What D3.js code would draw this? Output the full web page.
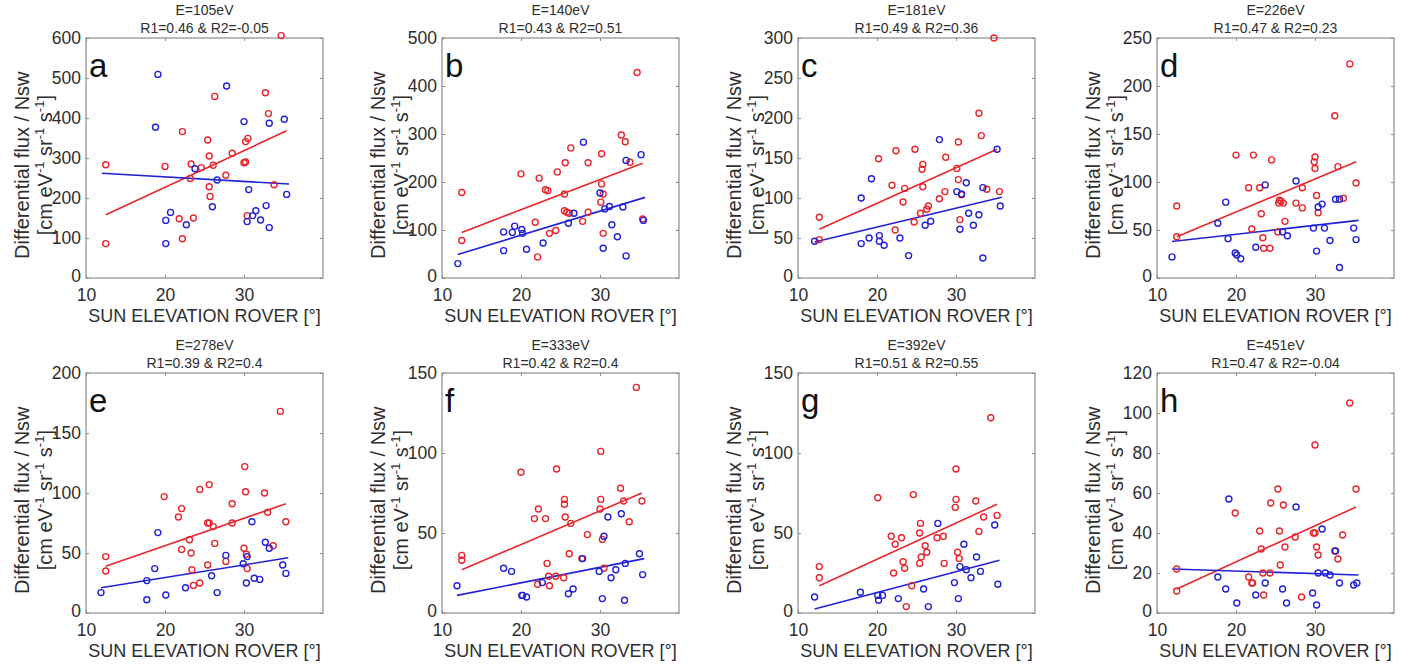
<!DOCTYPE html>
<html>
<head>
<meta charset="utf-8">
<script src="https://cdn.jsdelivr.net/npm/d3@7"></script>
<style>
  body { margin: 0; background: #fff; }
  svg { display: block; font-family: "Liberation Sans", Arial, sans-serif; }
  .tick text { fill: #2e2e2e; }
</style>
</head>
<body>
<svg id="canvas" width="1427" height="671"></svg>
<script>
// panel info
const letters = ["a", "b", "c", "d", "e", "f", "g", "h"];
const energies = ["105", "140", "181", "226", "278", "333", "392", "451"];
const r1 = ["0.46", "0.43", "0.49", "0.47", "0.39", "0.42", "0.51", "0.47"];
const r2 = ["-0.05", "0.51", "0.36", "0.23", "0.4", "0.4", "0.55", "-0.04"];
const yMax = [600, 500, 300, 250, 200, 150, 150, 120];
const yStep = [100, 100, 50, 50, 50, 50, 50, 20];
const xTicks = [10, 20, 30];

// red points [sun elevation, flux]
const redA = [[12.5,86],[12.5,283],[20,279],[22.2,366],[21.8,148],[22.2,98],[23.2,249],[23.3,285],[23.6,150],[24.6,276],[25.4,345],[25.6,305],[25.6,228],[25.7,204],[26.1,282],[26.3,454],[27.7,257],[28.5,312],[30,288],[30.2,290],[30.2,341],[30.5,349],[30.4,156],[32.7,463],[33.1,411],[33.8,233],[34.7,606]];
const redB = [[12.5,178],[12.5,78],[20,217],[21.8,116],[22.1,44],[22.3,208],[23.1,184],[23.4,182],[23.6,93],[24.4,99],[24.6,221],[25.5,175],[25.6,240],[25.5,140],[25.8,137],[26.1,135],[26.3,271],[27.8,118],[28.5,240],[28.5,137],[30.1,158],[30.2,196],[30.2,259],[30.4,175],[30.4,93],[32.7,298],[33.2,284],[33.8,241],[34.7,428],[35.4,123]];
const redC = [[12.7,76],[12.7,48],[20.2,149],[21.9,116],[22.4,159],[22.3,60],[23.3,95],[23.5,112],[24.7,70],[24.8,161],[25.5,81],[25.7,136],[25.8,142],[25.8,114],[26.3,86],[26.5,90],[27.9,99],[28.6,108],[28.7,151],[30.1,137],[30.3,123],[30.3,170],[30.5,73],[30.7,104],[32.9,206],[33.2,178],[33.9,111],[34.8,300],[35.5,108]];
const redD = [[12.5,75],[12.5,43],[20,128],[21.6,94],[22,51],[22.2,128],[23,94],[23.2,67],[23.4,42],[23.5,31],[24.3,31],[24.5,123],[25.3,48],[25.4,78],[25.5,81],[25.7,80],[26,78],[26.2,59],[27.6,78],[28.4,73],[28.4,94],[29.9,121],[30,126],[30,114],[30.2,86],[30.4,68],[32.5,169],[32.9,116],[33.6,83],[34.4,223],[35.2,99]];
const redE = [[12.5,47],[12.5,35],[19.9,97],[21.7,80],[22.1,87],[22.1,53],[23.1,61],[23.3,50],[23.4,36],[23.6,23],[24.4,25],[24.4,103],[25.4,40],[25.4,75],[25.6,75],[25.6,107],[26.1,72],[26.3,58],[27.7,43],[28.5,75],[28.5,91],[30,54],[30.1,122],[30.2,101],[30.3,49],[30.4,37],[32.6,100],[33,84],[33.7,56],[34.6,168],[35.3,76]];
const redF = [[12.5,36],[12.5,33],[20,88],[21.7,59],[22.1,18],[22.2,65],[23.1,59],[23.3,31],[23.5,23],[23.6,17],[24.4,23],[24.5,90],[25.4,22],[25.5,68],[25.5,71],[25.6,60],[26.1,37],[26.3,56],[27.7,34],[28.4,49],[30,65],[30.1,71],[30.1,101],[30.3,46],[30.5,28],[32.6,78],[33,70],[33.7,57],[34.6,141],[35.3,70]];
const redG = [[12.7,29],[12.7,22],[20.1,72],[21.8,48],[22.1,25],[22.3,43],[23.1,47],[23.3,32],[23.5,28],[23.7,4],[24.4,17],[24.6,74],[25.4,50],[25.4,31],[25.5,56],[25.6,35],[26.1,42],[26.3,38],[27.6,47],[28.4,48],[28.5,31],[29.9,66],[30,71],[30,90],[30.2,38],[30.4,34],[32.5,70],[32.9,51],[33.5,60],[34.4,122],[35.2,61]];
const redH = [[12.5,22],[12.5,11],[19.9,50],[21.6,18],[22,15],[22.1,15],[23,41],[23.2,32],[23.4,20],[23.5,9],[24.3,20],[24.4,55],[25.3,62],[25.5,41],[25.6,24],[26,54],[26.2,33],[27.5,38],[28.3,8],[29.8,40],[30,40],[30,84],[30.2,33],[30.4,29],[32.5,31],[32.9,27],[33.5,39],[34.4,105],[35.2,62]];

// blue points [sun elevation, flux]
const blueA = [[18.8,377],[19.1,509],[20.1,144],[20.1,86],[20.7,164],[22.7,133],[23.8,273],[26,178],[26.6,245],[27.8,480],[30,391],[30.4,141],[30.6,221],[31.1,156],[31.5,168],[32.1,145],[32.8,181],[33.2,126],[33.2,387],[35.1,397],[35.4,209]];
const blueB = [[12,30],[17.8,96],[17.8,57],[18.9,95],[19.2,108],[20.1,101],[20.2,93],[20.7,60],[22.8,73],[26,114],[26.7,135],[27.9,283],[30,177],[30.4,62],[30.6,144],[31.2,149],[31.5,111],[32.2,86],[32.9,148],[33.3,245],[33.3,46],[35.2,257],[35.5,120]];
const blueC = [[12.1,46],[18,43],[18,100],[19,50],[19.3,124],[20.3,53],[20.3,46],[20.9,41],[22.9,50],[24,28],[26.1,66],[26.8,71],[27.9,173],[30.1,108],[30.5,61],[30.7,105],[31.3,119],[31.6,81],[32.2,66],[32.9,79],[33.4,113],[33.4,25],[35.2,161],[35.6,90]];
const blueD = [[11.9,22],[17.7,57],[18.7,79],[19,41],[19.9,26],[20.1,24],[20.6,20],[22.5,32],[23.7,97],[25.9,48],[26.5,44],[27.6,101],[29.8,52],[30.2,28],[30.4,74],[30.9,77],[31.2,52],[31.9,39],[32.6,82],[33.1,82],[33.1,11],[34.9,52],[35.2,40]];
const blueE = [[11.9,17],[17.7,27],[17.7,11],[18.7,37],[19.1,67],[20.1,15],[22.6,21],[25.9,31],[26.6,17],[27.7,48],[29.9,41],[30.3,25],[30.4,47],[31,76],[31.3,29],[32,28],[32.7,59],[33.2,54],[34.9,40],[35.3,33]];
const blueF = [[11.9,17],[17.8,28],[18.8,26],[20.1,11],[20.2,11],[20.7,10],[22.7,19],[26,12],[26.6,15],[27.8,34],[29.9,26],[30.3,9],[30.5,48],[31,60],[31.4,22],[32,27],[32.7,62],[33.1,8],[33.2,31],[35,37],[35.4,24]];
const blueG = [[12.1,10],[17.9,13],[20.1,11],[20.2,8],[20.7,11],[22.7,9],[25.9,15],[26.5,4],[27.7,56],[29.8,19],[30.3,9],[30.5,29],[31,43],[31.3,27],[31.9,22],[32.6,35],[33.1,26],[34.9,55],[35.3,18]];
const blueH = [[17.7,18],[18.7,12],[19.1,57],[20.1,5],[22.5,9],[23.7,15],[25.9,12],[26.4,5],[27.6,53],[29.7,10],[30.2,4],[30.4,20],[30.9,42],[31.3,20],[31.9,19],[32.6,31],[33.1,15],[34.9,14],[35.3,15]];

// fitted lines [x0, y0, x1, y1]
const redFit = [[12.5,158,35.4,368],[12.5,95,35.4,239],[12.7,61,35.2,161],[12.5,43,35.2,121],[12.5,39,35.3,91],[12.5,27,35.3,75],[12.7,17,35.2,68],[12.5,12,35.2,53]];
const blueFit = [[12,262,35.7,235],[12,49,35.7,168],[12.1,45,35.8,101],[11.9,38,35.5,60],[11.9,21,35.6,46],[11.9,11,35.6,34],[12.1,2.5,35.5,33],[11.9,22,35.5,19]];

const redSets = [redA, redB, redC, redD, redE, redF, redG, redH];
const blueSets = [blueA, blueB, blueC, blueD, blueE, blueF, blueG, blueH];

const RED = "#e8262b";
const BLUE = "#2121d6";
const TXT = "#2e2e2e";
const AXC = "#8c8c8c";

const lefts = [86, 442, 798, 1157];
const tops = [38, 373];
const pw = 237, ph = 240;

const canvas = d3.select("#canvas");

letters.forEach((letter, i) => {
    const left = lefts[i % 4];
    const top = tops[Math.floor(i / 4)];

    const x = d3.scaleLinear().domain([10, 40]).range([0, pw]);
    const y = d3.scaleLinear().domain([0, yMax[i]]).range([ph, 0]);
    const yTicks = d3.range(0, yMax[i] + 0.001, yStep[i]);

    const g = canvas.append("g").attr("transform", `translate(${left},${top})`);

    // axes, ticks pointing inward like matlab
    const gy = g.append("g")
        .call(d3.axisLeft(y).tickValues(yTicks).tickSizeInner(-3).tickSizeOuter(0).tickPadding(5));
    gy.selectAll("text").style("font-size", "17.5px");
    // lift the "0" a little so it clears the x tick labels
    gy.selectAll("text").filter((d) => d === 0).attr("dy", "0.2em");
    const gx = g.append("g").attr("transform", `translate(0,${ph})`)
        .call(d3.axisBottom(x).tickValues(xTicks).tickSizeInner(-3).tickSizeOuter(0).tickPadding(11));
    gx.selectAll("text").style("font-size", "17.5px");
    g.append("g").attr("transform", `translate(${pw},0)`)
        .call(d3.axisRight(y).tickValues(yTicks).tickSizeInner(-3).tickSizeOuter(0).tickFormat(""));
    g.append("g")
        .call(d3.axisTop(x).tickValues(xTicks).tickSizeInner(-3).tickSizeOuter(0).tickFormat(""));
    g.selectAll(".domain").remove();
    g.selectAll(".tick line").attr("stroke", AXC);
    g.selectAll(".tick text").attr("font-family", "Liberation Sans, Arial, sans-serif");

    g.append("rect")
        .attr("width", pw).attr("height", ph)
        .attr("fill", "none").attr("stroke", AXC).attr("stroke-width", 1.2);

    // fitted lines
    [[redFit[i], RED], [blueFit[i], BLUE]].forEach(([f, c]) => {
        g.append("line")
            .attr("x1", x(f[0])).attr("y1", y(f[1]))
            .attr("x2", x(f[2])).attr("y2", y(f[3]))
            .attr("stroke", c).attr("stroke-width", 1.6);
    });

    // scatter
    [[redSets[i], RED], [blueSets[i], BLUE]].forEach(([pts, c]) => {
        g.selectAll(null)
            .data(pts)
            .enter()
            .append("circle")
            .attr("cx", (d) => x(d[0]))
            .attr("cy", (d) => y(d[1]))
            .attr("r", 3)
            .attr("fill", "none")
            .attr("stroke", c)
            .attr("stroke-width", 1.4);
    });

    // panel letter
    g.append("text")
        .attr("x", 3).attr("y", 39)
        .attr("fill", "#111").style("font-size", "33px")
        .text(letter);

    // titles
    g.append("text")
        .attr("x", pw / 2).attr("y", -23)
        .attr("text-anchor", "middle").attr("fill", TXT).style("font-size", "14px")
        .text(`E=${energies[i]}eV`);
    g.append("text")
        .attr("x", pw / 2).attr("y", -5)
        .attr("text-anchor", "middle").attr("fill", TXT).style("font-size", "14px")
        .text(`R1=${r1[i]} & R2=${r2[i]}`);

    // x label
    g.append("text")
        .attr("x", pw / 2).attr("y", ph + 44)
        .attr("text-anchor", "middle").attr("fill", TXT).style("font-size", "18px")
        .text("SUN ELEVATION ROVER [°]");

    // y label, two lines
    const cy = ph * 0.53;
    g.append("text")
        .attr("transform", `translate(-57,${cy}) rotate(-90)`)
        .attr("text-anchor", "middle").attr("fill", TXT).style("font-size", "20px")
        .text("Differential flux / Nsw");
    const unit = g.append("text")
        .attr("transform", `translate(-34,${cy}) rotate(-90)`)
        .attr("text-anchor", "middle").attr("fill", TXT).style("font-size", "20px");
    unit.append("tspan").text("[cm eV");
    unit.append("tspan").attr("dy", -8).style("font-size", "13px").text("-1");
    unit.append("tspan").attr("dy", 8).text(" sr");
    unit.append("tspan").attr("dy", -8).style("font-size", "13px").text("-1");
    unit.append("tspan").attr("dy", 8).text(" s");
    unit.append("tspan").attr("dy", -8).style("font-size", "13px").text("-1");
    unit.append("tspan").attr("dy", 8).text("]");
});
</script>
</body>
</html>
